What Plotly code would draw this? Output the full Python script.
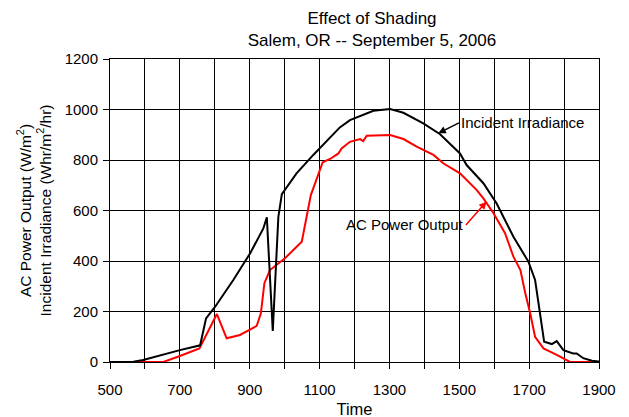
import plotly.graph_objects as go

irr_t = [500, 567, 595, 653, 700, 758, 775, 801, 853, 901, 939, 949, 966, 982, 992, 1034, 1082, 1158, 1187, 1254, 1302, 1340, 1397, 1445, 1502, 1521, 1569, 1607, 1655, 1698, 1717, 1731, 1743, 1765, 1779, 1798, 1826, 1836, 1855, 1880, 1900]
irr_v = [0, 1, 8, 30, 47, 66, 173, 219, 325, 430, 529, 573, 123, 575, 665, 747, 820, 929, 958, 995, 1002, 987, 945, 902, 826, 780, 708, 628, 496, 397, 325, 193, 80, 71, 83, 47, 34, 34, 15, 5, 2]

ac_t = [500, 653, 700, 756, 806, 834, 872, 920, 932, 942, 958, 1001, 1049, 1075, 1109, 1130, 1154, 1163, 1187, 1216, 1225, 1235, 1302, 1340, 1378, 1426, 1454, 1502, 1550, 1569, 1598, 1631, 1655, 1675, 1689, 1703, 1717, 1741, 1779, 1817, 1900]
ac_v = [0, 0, 24, 54, 190, 94, 107, 143, 193, 312, 364, 411, 476, 661, 791, 804, 826, 846, 872, 883, 875, 896, 899, 883, 853, 820, 787, 747, 681, 648, 589, 510, 417, 364, 272, 193, 100, 54, 28, 0, 0]

x_ticks = list(range(500, 1901, 100))
x_labels = [str(v) if (v - 500) % 200 == 0 else "" for v in x_ticks]
y_ticks = list(range(0, 1201, 200))

FONT = "Liberation Sans, Arial, sans-serif"

fig = go.Figure()
fig.add_trace(go.Scatter(x=ac_t, y=ac_v, mode="lines", name="AC Power Output",
                         line=dict(color="#ff0000", width=2)))
fig.add_trace(go.Scatter(x=irr_t, y=irr_v, mode="lines", name="Incident Irradiance",
                         line=dict(color="#000000", width=2)))

fig.add_annotation(x=1440, y=906, ax=1499, ay=947, xref="x", yref="y", axref="x", ayref="y",
                   text="Incident Irradiance", showarrow=True, arrowhead=2, arrowsize=1,
                   arrowwidth=1.5, arrowcolor="black", xanchor="left",
                   font=dict(family=FONT, size=15, color="black"))
fig.add_annotation(x=1578, y=635, ax=1519, ay=543, xref="x", yref="y", axref="x", ayref="y",
                   text="AC Power Output", showarrow=True, arrowhead=2, arrowsize=1,
                   arrowwidth=1.5, arrowcolor="#ff0000", xanchor="right",
                   font=dict(family=FONT, size=15, color="black"))

fig.update_layout(
    width=629, height=417,
    margin=dict(l=102, r=38, t=51, b=63),
    paper_bgcolor="white", plot_bgcolor="white",
    showlegend=False,
    font=dict(family=FONT, size=15, color="black"),
    title=dict(text="Effect of Shading<br>Salem, OR -- September 5, 2006",
               x=364 / 629, xanchor="center", y=0.962, yanchor="top",
               font=dict(family=FONT, size=17, color="black")),
    xaxis=dict(range=[500, 1900], tickmode="array", tickvals=x_ticks, ticktext=x_labels,
               showgrid=True, gridcolor="black", gridwidth=1,
               showline=True, linecolor="black", linewidth=1, mirror=True,
               ticks="outside", ticklen=6, tickcolor="black", ticklabelstandoff=8,
               automargin=False,
               title=dict(text="Time", standoff=6, font=dict(size=16.5)), zeroline=False),
    yaxis=dict(range=[0, 1200], tickmode="array", tickvals=y_ticks,
               showgrid=True, gridcolor="black", gridwidth=1,
               showline=True, linecolor="black", linewidth=1, mirror=True,
               ticks="outside", ticklen=6, tickcolor="black", ticklabelstandoff=2,
               automargin=False,
               title=dict(text="AC Power Output (W/m<sup>2</sup>)<br>Incident Irradiance (Whr/m<sup>2</sup>/hr)",
                          standoff=9, font=dict(size=15.5)),
               zeroline=False),
)

fig.write_html("out.html")
